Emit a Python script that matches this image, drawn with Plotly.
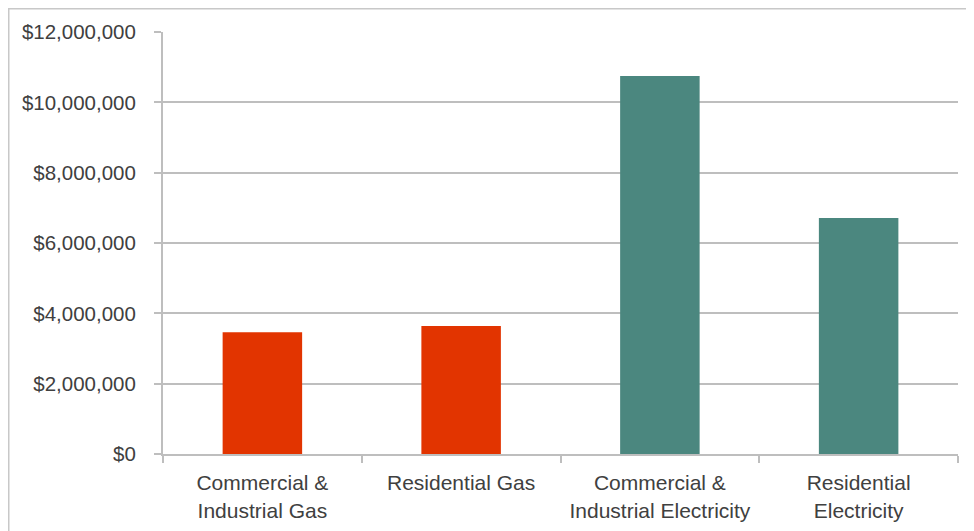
import plotly.graph_objects as go

categories = ["Commercial &<br>Industrial Gas", "Residential Gas",
              "Commercial &<br>Industrial Electricity", "Residential<br>Electricity"]
values = [3460000, 3640000, 10750000, 6710000]
colors = ["#E23400", "#E23400", "#4B877F", "#4B877F"]
tick_vals = [0, 2000000, 4000000, 6000000, 8000000, 10000000, 12000000]
tick_text = ["$0", "$2,000,000", "$4,000,000", "$6,000,000", "$8,000,000",
             "$10,000,000", "$12,000,000"]

fig = go.Figure(go.Bar(x=categories, y=values, marker_color=colors,
                       marker_line_width=0, width=0.4))

# page body has an 8px margin, so the figure is shifted by 8px
W, H = 966, 523
L, R, T, B = 155, 16, 24, 77
pw, ph = W - L - R, H - T - B

fig.update_layout(
    width=W, height=H,
    margin=dict(l=L, r=R, t=T, b=B, pad=0),
    paper_bgcolor="white", plot_bgcolor="white",
    font=dict(family="Liberation Sans, Arial, sans-serif", color="#404040", size=20),
    showlegend=False,
    shapes=[dict(type="rect", xref="paper", yref="paper",
                 x0=(0.5 - L) / pw, x1=(W + 10 - L) / pw,
                 y0=-(H + 10 - (H - B)) / ph, y1=((H - B) - 0.5) / ph,
                 line=dict(color="#C8C8C8", width=2), layer="below")],
)
fig.update_xaxes(showline=True, linecolor="#BEBEBE", linewidth=2,
                 ticks="outside", tickson="boundaries", ticklen=7, tickcolor="#BEBEBE",
                 tickwidth=2, tickfont=dict(size=21), showgrid=False,
                 ticklabelstandoff=9, automargin=False)
fig.update_yaxes(range=[0, 12000000], tickvals=tick_vals, ticktext=tick_text,
                 showline=True, linecolor="#BEBEBE", linewidth=2,
                 ticks="outside", ticklen=7, tickcolor="#BEBEBE", tickwidth=2,
                 showgrid=True, gridcolor="#BEBEBE", gridwidth=2,
                 tickfont=dict(size=20.5), ticklabelstandoff=14, zeroline=False,
                 automargin=False)

fig.write_html("out.html")
